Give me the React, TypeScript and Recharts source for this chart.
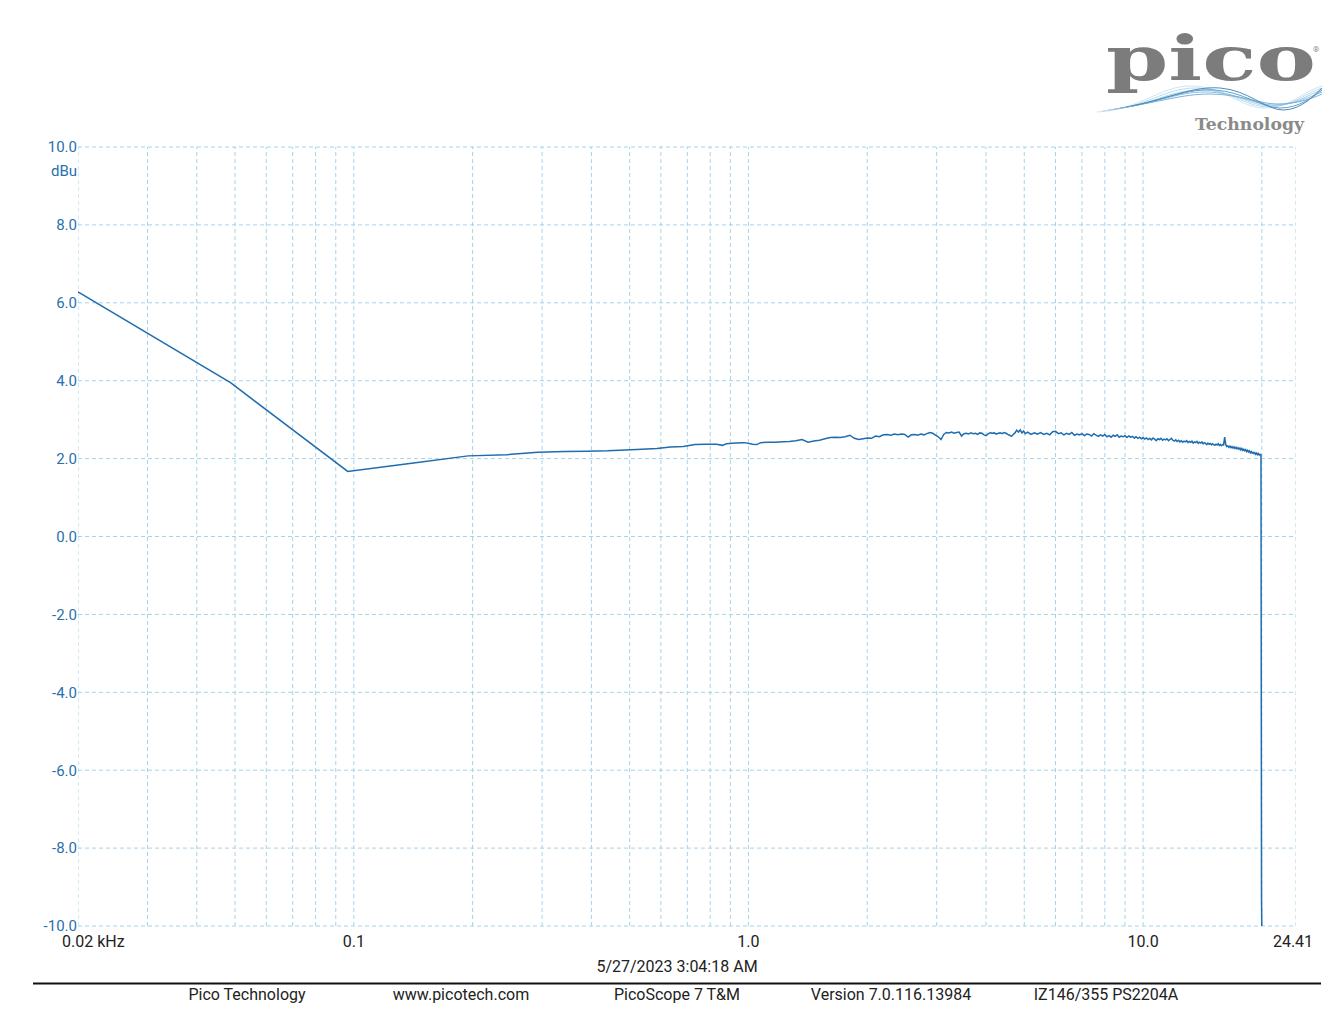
import React from "react";
import { LineChart, Line, XAxis, YAxis, CartesianGrid, ReferenceLine } from "recharts";

// frequency of each trace point (kHz)
const freqKHz: number[] = [
  0.02, 0.0487, 0.0965, 0.145, 0.195, 0.244, 0.293, 0.342, 0.391, 0.439,
  0.488, 0.537, 0.586, 0.635, 0.684, 0.732, 0.781, 0.83, 0.859, 0.879,
  0.928, 0.977, 1.025, 1.05, 1.074, 1.123, 1.172, 1.221, 1.27, 1.318,
  1.367, 1.416, 1.465, 1.514, 1.563, 1.611, 1.66, 1.709, 1.758, 1.807,
  1.855, 1.904, 1.953, 2.002, 2.051, 2.1, 2.148, 2.197, 2.246, 2.295,
  2.344, 2.393, 2.441, 2.49, 2.539, 2.588, 2.637, 2.686, 2.734, 2.783,
  2.832, 2.881, 2.93, 2.979, 3.027, 3.076, 3.125, 3.174, 3.223, 3.271,
  3.32, 3.369, 3.418, 3.467, 3.516, 3.564, 3.613, 3.662, 3.711, 3.76,
  3.809, 3.857, 3.906, 3.955, 4.004, 4.053, 4.102, 4.15, 4.199, 4.248,
  4.297, 4.346, 4.395, 4.443, 4.492, 4.541, 4.59, 4.639, 4.688, 4.736,
  4.785, 4.834, 4.883, 4.932, 4.98, 5.029, 5.1, 5.2, 5.3, 5.4,
  5.5, 5.6, 5.7, 5.8, 5.9, 6.0, 6.1, 6.2, 6.3, 6.4,
  6.5, 6.6, 6.7, 6.8, 6.9, 7.0, 7.1, 7.2, 7.3, 7.4,
  7.5, 7.6, 7.7, 7.8, 7.9, 8.0, 8.1, 8.2, 8.3, 8.4,
  8.5, 8.6, 8.7, 8.8, 8.9, 9.0, 9.1, 9.2, 9.3, 9.4,
  9.5, 9.6, 9.7, 9.8, 9.9, 10.0, 10.1, 10.2, 10.3, 10.4,
  10.5, 10.6, 10.7, 10.8, 10.9, 11.0, 11.1, 11.2, 11.3, 11.4,
  11.5, 11.6, 11.7, 11.8, 11.9, 12.0, 12.1, 12.2, 12.3, 12.4,
  12.5, 12.6, 12.7, 12.8, 12.9, 13.0, 13.1, 13.2, 13.3, 13.4,
  13.5, 13.6, 13.7, 13.8, 13.9, 14.0, 14.1, 14.2, 14.3, 14.4,
  14.5, 14.6, 14.7, 14.8, 14.9, 15.0, 15.1, 15.2, 15.3, 15.4,
  15.5, 15.6, 15.7, 15.8, 15.9, 16.0, 16.1, 16.2, 16.3, 16.4,
  16.5, 16.6, 16.7, 16.8, 16.9, 17.0, 17.1, 17.2, 17.3, 17.4,
  17.5, 17.6, 17.7, 17.8, 17.9, 18.0, 18.1, 18.2, 18.3, 18.4,
  18.5, 18.6, 18.7, 18.8, 18.9, 19.0, 19.1, 19.2, 19.3, 19.4,
  19.5, 19.6, 19.7, 19.8, 19.9, 19.96, 20.02,
];

// measured level (dBu)
const levelDbu: number[] = [
  6.28, 3.95, 1.67, 1.9, 2.07, 2.1, 2.16, 2.18, 2.19, 2.2,
  2.22, 2.24, 2.26, 2.3, 2.31, 2.36, 2.37, 2.37, 2.34, 2.38,
  2.4, 2.41, 2.37, 2.36, 2.41, 2.42, 2.42, 2.43, 2.44, 2.46,
  2.49, 2.42, 2.45, 2.47, 2.51, 2.54, 2.55, 2.54, 2.56, 2.6,
  2.52, 2.49, 2.51, 2.53, 2.52, 2.58, 2.56, 2.61, 2.62, 2.6,
  2.63, 2.61, 2.63, 2.62, 2.55, 2.61, 2.62, 2.6, 2.63, 2.61,
  2.64, 2.67, 2.65, 2.6, 2.56, 2.49, 2.62, 2.67, 2.66, 2.68,
  2.65, 2.67, 2.68, 2.58, 2.64, 2.65, 2.63, 2.66, 2.64, 2.65,
  2.62, 2.66, 2.65, 2.61, 2.59, 2.64, 2.66, 2.65, 2.66, 2.63,
  2.65, 2.66, 2.64, 2.67, 2.65, 2.62, 2.6, 2.57, 2.62, 2.66,
  2.73, 2.68, 2.74, 2.66, 2.71, 2.64, 2.68, 2.62, 2.66, 2.63,
  2.67, 2.62, 2.65, 2.61, 2.69, 2.7, 2.64, 2.66, 2.61, 2.65,
  2.62, 2.67, 2.6, 2.63, 2.61, 2.64, 2.59, 2.63, 2.62, 2.58,
  2.64, 2.6, 2.57, 2.61, 2.58, 2.62, 2.56, 2.59, 2.55, 2.6,
  2.57, 2.61, 2.55, 2.58, 2.56, 2.59, 2.54, 2.58, 2.55, 2.57,
  2.53, 2.56, 2.52, 2.55, 2.51, 2.54, 2.5, 2.53, 2.49, 2.52,
  2.48, 2.53, 2.5, 2.46, 2.51, 2.49, 2.52, 2.47, 2.5, 2.48,
  2.51, 2.46, 2.49, 2.52, 2.47, 2.45, 2.48, 2.44, 2.47, 2.43,
  2.46, 2.42, 2.45, 2.43, 2.46, 2.41, 2.44, 2.42, 2.45, 2.4,
  2.43, 2.41, 2.44, 2.39, 2.42, 2.4, 2.43, 2.38, 2.41, 2.39,
  2.36, 2.4, 2.37, 2.39, 2.35, 2.38, 2.36, 2.34, 2.37, 2.35,
  2.38, 2.34, 2.36, 2.33, 2.36, 2.35, 2.55, 2.36, 2.31, 2.33,
  2.29, 2.32, 2.28, 2.31, 2.27, 2.3, 2.26, 2.29, 2.25, 2.28,
  2.24, 2.27, 2.22, 2.26, 2.21, 2.24, 2.2, 2.23, 2.18, 2.21,
  2.17, 2.2, 2.15, 2.18, 2.14, 2.16, 2.13, 2.15, 2.11, 2.14,
  2.1, 2.13, 2.09, 2.11, 2.1, -9.3, -10.6,
];

const xTickValues: number[] = [0.02, 0.1, 1, 10, 24.41];
const xTickLabels: string[] = ["0.02 kHz", "0.1", "1.0", "10.0", "24.41"];
const yTickValues: number[] = [-10, -8, -6, -4, -2, 0, 2, 4, 6, 8, 10];
const gridFreqs: number[] = [
  0.02, 0.03, 0.04, 0.05, 0.06, 0.07, 0.08, 0.09,
  0.1, 0.2, 0.3, 0.4, 0.5, 0.6, 0.7, 0.8, 0.9,
  1, 2, 3, 4, 5, 6, 7, 8, 9,
  10, 20, 24.41,
];
const footerTexts: string[] = [
  "Pico Technology",
  "www.picotech.com",
  "PicoScope 7 T&M",
  "Version 7.0.116.13984",
  "IZ146/355 PS2204A",
];
const footerCenters = [247, 461, 677, 891, 1106];
const timestamp = "5/27/2023 3:04:18 AM";
const unitLabel = "dBu";

const data = freqKHz.map((f, i) => ({ f, v: levelDbu[i] }));

const GRID = "#a6d3e8";
const TRACE = "#1f6cae";
const FONT = "Roboto, 'Noto Sans', sans-serif";

const XTick = (props: any) => {
  const { x, y, payload } = props;
  const idx = xTickValues.indexOf(payload.value);
  const label = idx >= 0 ? xTickLabels[idx] : String(payload.value);
  const first = idx === 0;
  const last = idx === xTickValues.length - 1;
  return (
    <text
      x={first ? x - 16 : last ? x - 3 : x}
      y={y + 20.5}
      textAnchor={first ? "start" : "middle"}
      fontSize={16}
      fontFamily={FONT}
      fill="#222"
    >
      {label}
    </text>
  );
};

const YTick = (props: any) => {
  const { x, y, payload } = props;
  return (
    <text x={x} y={y + 5.3} textAnchor="end" fontSize={15} fontFamily={FONT} fill="#2a70ae">
      {payload.value.toFixed(1)}
    </text>
  );
};

const wavePaths = [
  "M1097,112 C1140,110 1160,86 1190,86 C1225,86 1240,108 1265,108 C1290,108 1305,90 1322,86",
  "M1102,111 C1145,108 1165,88 1195,88 C1228,88 1245,107 1268,107 C1292,107 1307,92 1322,88",
  "M1108,110 C1150,106 1170,90 1200,90 C1232,90 1250,106 1271,106 C1294,106 1309,94 1322,90",
  "M1114,109 C1155,104 1176,92 1205,92 C1236,92 1255,105 1274,105 C1296,105 1311,96 1322,92",
  "M1120,108 C1160,102 1182,94 1210,94 C1240,94 1259,104 1277,104 C1298,104 1313,98 1322,94",
  "M1126,107 C1165,100 1188,88 1215,90 C1244,92 1262,108 1280,108 C1300,108 1314,96 1322,90",
  "M1132,106 C1170,98 1193,86 1220,88 C1248,90 1266,110 1283,110 C1302,110 1315,94 1322,88",
];
const waveColors = ["#cfe6f4", "#bcdcef", "#a6d0ea", "#8fc2e2", "#79b2d8", "#639fca", "#4f8cbb"];

export default function App() {
  return (
    <div style={{ position: "absolute", left: 0, top: 0, width: 1340, height: 1020, background: "#fff" }}>
      <LineChart
        width={1340}
        height={1020}
        data={data}
        margin={{ top: 147, right: 44, bottom: 64, left: 28 }}
      >
        <CartesianGrid vertical={false} stroke={GRID} strokeDasharray="4 3" />
        {gridFreqs.map((g) => (
          <ReferenceLine key={g} x={g} stroke={GRID} strokeDasharray="4 3" ifOverflow="hidden" />
        ))}
        <XAxis
          dataKey="f"
          type="number"
          scale="log"
          domain={[0.02, 24.41]}
          ticks={xTickValues}
          interval={0}
          allowDataOverflow
          axisLine={false}
          tickLine={false}
          tickSize={0}
          tickMargin={0}
          height={30}
          tick={<XTick />}
        />
        <YAxis
          type="number"
          domain={[-10, 10]}
          ticks={yTickValues}
          interval={0}
          allowDataOverflow
          axisLine={false}
          tickLine={false}
          tickSize={0}
          tickMargin={1}
          width={50}
          tick={<YTick />}
        />
        <Line
          type="linear"
          dataKey="v"
          stroke={TRACE}
          strokeWidth={1.5}
          dot={false}
          activeDot={false}
          isAnimationActive={false}
        />
      </LineChart>
      <svg
        width={1340}
        height={1020}
        style={{ position: "absolute", left: 0, top: 0, pointerEvents: "none" }}
      >
        <text x={77} y={176} textAnchor="end" fontSize={15} fontFamily={FONT} fill="#2a70ae">
          {unitLabel}
        </text>
        <text x={677} y={971.5} textAnchor="middle" fontSize={16} fontFamily={FONT} fill="#222">
          {timestamp}
        </text>
        <line x1={33} x2={1321} y1={983.5} y2={983.5} stroke="#111" strokeWidth={1.8} />
        {footerTexts.map((t, i) => (
          <text key={t} x={footerCenters[i]} y={1000} textAnchor="middle" fontSize={16} fontFamily={FONT} fill="#222">
            {t}
          </text>
        ))}
        {/* logo */}
        {wavePaths.map((d, i) => (
          <path key={i} d={d} fill="none" stroke={waveColors[i]} strokeWidth={1} />
        ))}
        <text
          x={1106}
          y={80}
          fontSize={62}
          fontFamily="'DejaVu Serif', 'Liberation Serif', serif"
          fontWeight="bold"
          fill="#7c7c7c"
          textLength={210}
          lengthAdjust="spacingAndGlyphs"
        >
          pico
        </text>
        <text x={1313} y={52} fontSize={8} fontFamily={FONT} fill="#888">
          ®
        </text>
        <text
          x={1195}
          y={130}
          fontSize={17}
          fontFamily="'DejaVu Serif', 'Liberation Serif', serif"
          fontWeight="bold"
          fill="#8a8a8a"
          textLength={109}
          lengthAdjust="spacingAndGlyphs"
        >
          Technology
        </text>
      </svg>
    </div>
  );
}
